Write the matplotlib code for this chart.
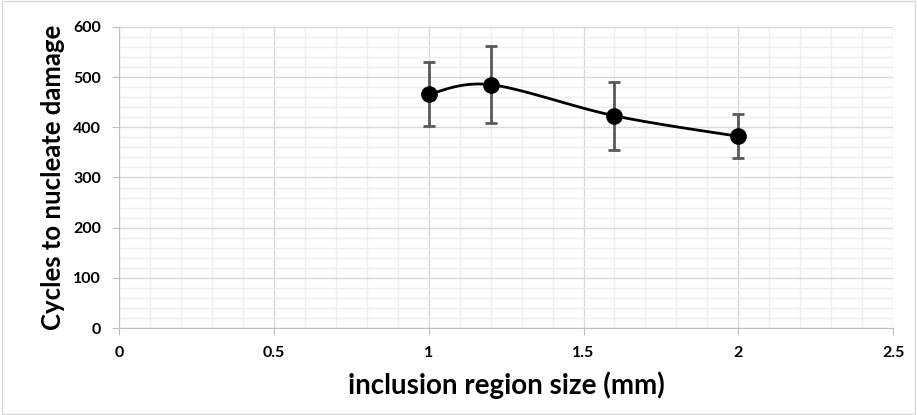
import numpy as np
import matplotlib.pyplot as plt
from matplotlib.ticker import MultipleLocator

# data
size_mm = [1.0, 1.2, 1.6, 2.0]
cycles = [466, 485, 423, 382]
err_hi = [530, 562, 491, 426]
err_lo = [402, 408, 355, 339]

x_ticks = [0, 0.5, 1, 1.5, 2, 2.5]
x_tick_labels = ['0', '0.5', '1', '1.5', '2', '2.5']
y_ticks = [0, 100, 200, 300, 400, 500, 600]


def excel_smooth(x, y, n=40):
    # bezier curve through points, like excel's smoothed line
    x = np.asarray(x, float)
    y = np.asarray(y, float)
    px, py = [], []
    for i in range(len(x) - 1):
        x0, y0 = (x[i - 1], y[i - 1]) if i > 0 else (x[i], y[i])
        x3, y3 = (x[i + 2], y[i + 2]) if i + 2 < len(x) else (x[i + 1], y[i + 1])
        c1x = x[i] + (x[i + 1] - x0) / 6
        c1y = y[i] + (y[i + 1] - y0) / 6
        c2x = x[i + 1] - (x3 - x[i]) / 6
        c2y = y[i + 1] - (y3 - y[i]) / 6
        t = np.linspace(0, 1, n)
        bx = (1 - t) ** 3 * x[i] + 3 * (1 - t) ** 2 * t * c1x + 3 * (1 - t) * t ** 2 * c2x + t ** 3 * x[i + 1]
        by = (1 - t) ** 3 * y[i] + 3 * (1 - t) ** 2 * t * c1y + 3 * (1 - t) * t ** 2 * c2y + t ** 3 * y[i + 1]
        px.extend(bx)
        py.extend(by)
    return px, py


plt.rcParams['font.family'] = ['Lato', 'DejaVu Sans']

fig = plt.figure(figsize=(9.17, 4.15), dpi=100)
fig.patches.append(plt.Rectangle((0.002, 0.002), 0.996, 0.996, transform=fig.transFigure,
                                 fill=False, edgecolor='#d9d9d9', linewidth=1))
ax = fig.add_axes([0.1298, 0.2096, 0.8442, 0.7254])

ax.set_xticks(x_ticks)
ax.set_xticklabels(x_tick_labels, fontweight='bold')
ax.set_yticks(y_ticks)
ax.set_yticklabels([str(v) for v in y_ticks], fontweight='bold')
ax.xaxis.set_minor_locator(MultipleLocator(0.1))
ax.yaxis.set_minor_locator(MultipleLocator(20))
ax.set_xlim(0, 2.5)
ax.set_ylim(0, 600)
ax.grid(which='minor', color='#efefef', linewidth=1)
ax.grid(which='major', color='#d9d9d9', linewidth=1)
ax.set_axisbelow(True)

for s in ['top', 'right']:
    ax.spines[s].set_visible(False)
for s in ['left', 'bottom']:
    ax.spines[s].set_color('#bfbfbf')

ax.tick_params(which='major', length=5, color='#bfbfbf', labelsize=11.5, pad=8)
ax.tick_params(which='minor', length=0)

sx, sy = excel_smooth(size_mm, cycles)
ax.plot(sx, sy, color='black', linewidth=2, zorder=3)

yerr = [np.array(cycles) - np.array(err_lo), np.array(err_hi) - np.array(cycles)]
ax.errorbar(size_mm, cycles, yerr=yerr, fmt='none', ecolor='#595959', elinewidth=2,
            capsize=4, capthick=2, zorder=4)
ax.plot(size_mm, cycles, 'o', color='black', markersize=11, zorder=5)

ax.set_xlabel('inclusion region size (mm)', fontsize=20, fontweight='bold', labelpad=8)
ax.set_ylabel('Cycles to nucleate damage', fontsize=18.5, fontweight='bold', labelpad=6)

fig.savefig('out.png', dpi=100)
